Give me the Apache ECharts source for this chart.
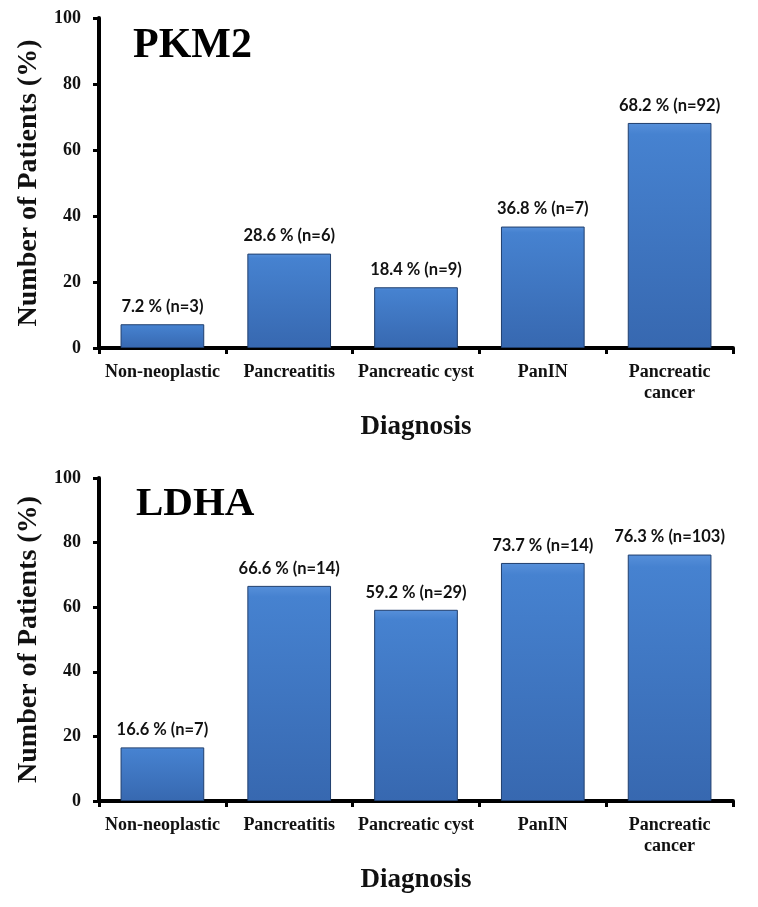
<!DOCTYPE html>
<html>
<head>
<meta charset="utf-8">
<script src="https://cdn.jsdelivr.net/npm/echarts@6/dist/echarts.min.js"></script>
<style>html,body{margin:0;padding:0;background:#fff}#c{width:758px;height:907px}</style>
</head>
<body>
<div id="c"></div>
<script>
const categories = ['Non-neoplastic', 'Pancreatitis', 'Pancreatic cyst', 'PanIN', 'Pancreatic\ncancer'];
const pkm2Values = [7.2, 28.6, 18.4, 36.8, 68.2];
const pkm2N = [3, 6, 9, 7, 92];
const ldhaValues = [16.6, 66.6, 59.2, 73.7, 76.3];
const ldhaN = [7, 14, 29, 14, 103];
const yTicks = [0, 20, 40, 60, 80, 100];

const serif = '"Liberation Serif", "Times New Roman", serif';
const chart = echarts.init(document.getElementById('c'));

function xAxis(gi) {
  return {
    type: 'category', gridIndex: gi, data: categories,
    name: 'Diagnosis', nameLocation: 'middle', nameGap: 66,
    nameTextStyle: {fontFamily: serif, fontWeight: 'bold', fontSize: 27, color: '#111'},
    axisLine: {lineStyle: {color: '#000', width: 4}},
    axisTick: {show: true, length: 6, lineStyle: {color: '#000', width: 3}},
    axisLabel: {fontFamily: serif, fontWeight: 'bold', fontSize: 18, color: '#111', margin: 14, lineHeight: 21, interval: 0}
  };
}
function yAxis(gi) {
  return {
    type: 'value', gridIndex: gi, min: 0, max: 100, interval: 20,
    name: 'Number of Patients (%)', nameLocation: 'middle', nameGap: 50,
    nameTextStyle: {fontFamily: serif, fontWeight: 'bold', fontSize: 28, color: '#111'},
    axisLine: {show: true, lineStyle: {color: '#000', width: 4}},
    axisTick: {show: true, length: 6, lineStyle: {color: '#000', width: 3}},
    axisLabel: {fontFamily: serif, fontWeight: 'bold', fontSize: 18, color: '#111', margin: 18,
      formatter: v => yTicks.includes(v) ? String(v) : ''},
    splitLine: {show: false}
  };
}
const barStyle = {
  color: new echarts.graphic.LinearGradient(0, 0, 0, 1, [
    {offset: 0, color: '#5790da'}, {offset: 0.05, color: '#4682d0'}, {offset: 1, color: '#3768b0'}
  ]),
  borderColor: '#203f6e', borderWidth: 1
};
function series(gi, vals, ns) {
  return {
    type: 'bar', xAxisIndex: gi, yAxisIndex: gi, data: vals, barWidth: '66%',
    itemStyle: barStyle,
    label: {show: true, position: 'top', distance: 9,
      fontFamily: 'Lato, "Open Sans", sans-serif', fontWeight: 'bold', fontSize: 16.5, color: '#111',
      formatter: p => p.value + ' % (n=' + ns[p.dataIndex] + ')'}
  };
}

chart.setOption({
  animation: false,
  title: [
    {text: 'PKM2', left: 128, top: 20, textStyle: {fontFamily: serif, fontWeight: 'bold', fontSize: 42, color: '#000'}},
    {text: 'LDHA', left: 131, top: 479, textStyle: {fontFamily: serif, fontWeight: 'bold', fontSize: 41, color: '#000'}}
  ],
  grid: [
    {left: 99, right: 25, top: 18, height: 330},
    {left: 99, right: 25, top: 478, height: 323}
  ],
  xAxis: [xAxis(0), xAxis(1)],
  yAxis: [yAxis(0), yAxis(1)],
  series: [series(0, pkm2Values, pkm2N), series(1, ldhaValues, ldhaN)]
});
</script>
</body>
</html>
